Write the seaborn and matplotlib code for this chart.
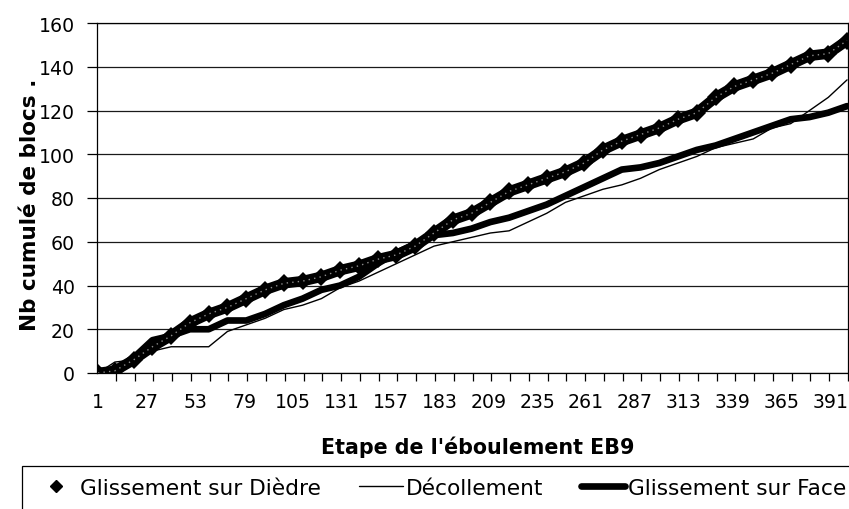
import matplotlib
matplotlib.use("Agg")
import matplotlib.pyplot as plt
from matplotlib.lines import Line2D
import pandas as pd
import seaborn as sns

# Cumulative number of blocks, read every 10 steps of the EB9 rockfall
etapes = [1] + list(range(10, 401, 10))
glissement_diedre = [0, 1, 6, 12, 17, 23, 27, 30, 34, 38,
                     41, 42, 44, 47, 49, 52, 54, 58, 64, 70,
                     73, 78, 83, 86, 89, 92, 96, 102, 106, 109,
                     112, 116, 119, 126, 131, 134, 137, 141, 145, 146,
                     152]
decollement = [0, 5, 6, 10, 12, 12, 12, 19, 22, 25,
               29, 31, 34, 39, 42, 46, 50, 54, 58, 60,
               62, 64, 65, 69, 73, 78, 81, 84, 86, 89,
               93, 96, 99, 103, 105, 107, 112, 114, 120, 126,
               134]
glissement_face = [0, 1, 7, 15, 17, 20, 20, 24, 24, 27,
                   31, 34, 38, 40, 44, 50, 55, 59, 63, 64,
                   66, 69, 71, 74, 77, 81, 85, 89, 93, 94,
                   96, 99, 102, 104, 107, 110, 113, 116, 117, 119,
                   122]

labels_series = ["Glissement sur Dièdre", "Décollement", "Glissement sur Face"]
tick_etapes = [1, 27, 53, 79, 105, 131, 157, 183, 209, 235, 261, 287, 313, 339, 365, 391]
y_ticks = [0, 20, 40, 60, 80, 100, 120, 140, 160]

df = pd.DataFrame({
    "Etape": etapes,
    labels_series[0]: glissement_diedre,
    labels_series[1]: decollement,
    labels_series[2]: glissement_face,
})

sns.set_theme(style="white")
plt.rcParams["font.family"] = ["DejaVu Sans"]
plt.rcParams["text.color"] = "black"

fig, ax = plt.subplots(figsize=(8.49, 5.10), dpi=100)
fig.subplots_adjust(left=97 / 849, right=848 / 849, top=1 - 24 / 510, bottom=1 - 374 / 510)

ax.set_xlim(0.5, 400.5)
ax.set_ylim(0, 160)
ax.set_yticks(y_ticks)
ax.yaxis.grid(True, color="#1a1a1a", lw=0.9)
ax.xaxis.grid(False)
ax.set_axisbelow(True)

sns.lineplot(data=df, x="Etape", y=labels_series[1], ax=ax, color="black", lw=1.0)
sns.lineplot(data=df, x="Etape", y=labels_series[2], ax=ax, color="black", lw=4.8)
sns.lineplot(data=df, x="Etape", y=labels_series[0], ax=ax, color="black", lw=7.6,
             marker="D", markersize=9.5, markeredgewidth=0)
# light speckle inside the marker band
ax.plot(df["Etape"], df[labels_series[0]], color="#8c8c8c", lw=1.0, ls=(0, (1, 3)))

ax.set_xticks(tick_etapes)
ax.set_xticklabels([str(t) for t in tick_etapes])
ax.set_xticks([10.5 + 10 * k for k in range(40)], minor=True)
ax.tick_params(axis="x", which="major", length=0, pad=14, labelsize=13.6, colors="black")
ax.tick_params(axis="x", which="minor", length=6, width=0.9, direction="out", color="black", bottom=True)
ax.tick_params(axis="y", which="major", length=7, width=0.9, direction="out", pad=9,
               labelsize=13.6, colors="black", left=True)
ax.set_xlabel("")
ax.set_ylabel("")

for side in ["left", "bottom", "right", "top"]:
    ax.spines[side].set_visible(True)
    ax.spines[side].set_color("black")
    ax.spines[side].set_linewidth(0.9)

fig.text(30 / 849, 1 - 205 / 510, "Nb cumulé de blocs .", rotation=90, ha="center", va="center",
         fontsize=15.5, fontweight="bold", color="black")
fig.text(478 / 849, 1 - 447 / 510, "Etape de l'éboulement EB9", ha="center", va="center",
         fontsize=14.9, fontweight="bold", color="black")

handles = [
    Line2D([], [], color="black", marker="D", markersize=6, ls="none"),
    Line2D([], [], color="black", lw=1.0),
    Line2D([], [], color="black", lw=4.8),
]
leg = fig.legend(handles, labels_series, loc="upper left", bbox_to_anchor=(22 / 849, 1 - 467 / 510),
                 ncol=3, frameon=True, fancybox=False, edgecolor="black", framealpha=1,
                 fontsize=15.6, handlelength=2.0, handletextpad=0.15, columnspacing=1.75,
                 borderpad=0.55, borderaxespad=0, labelcolor="black")
leg.get_frame().set_linewidth(0.9)

fig.savefig("out.png", dpi=100, facecolor="white")
